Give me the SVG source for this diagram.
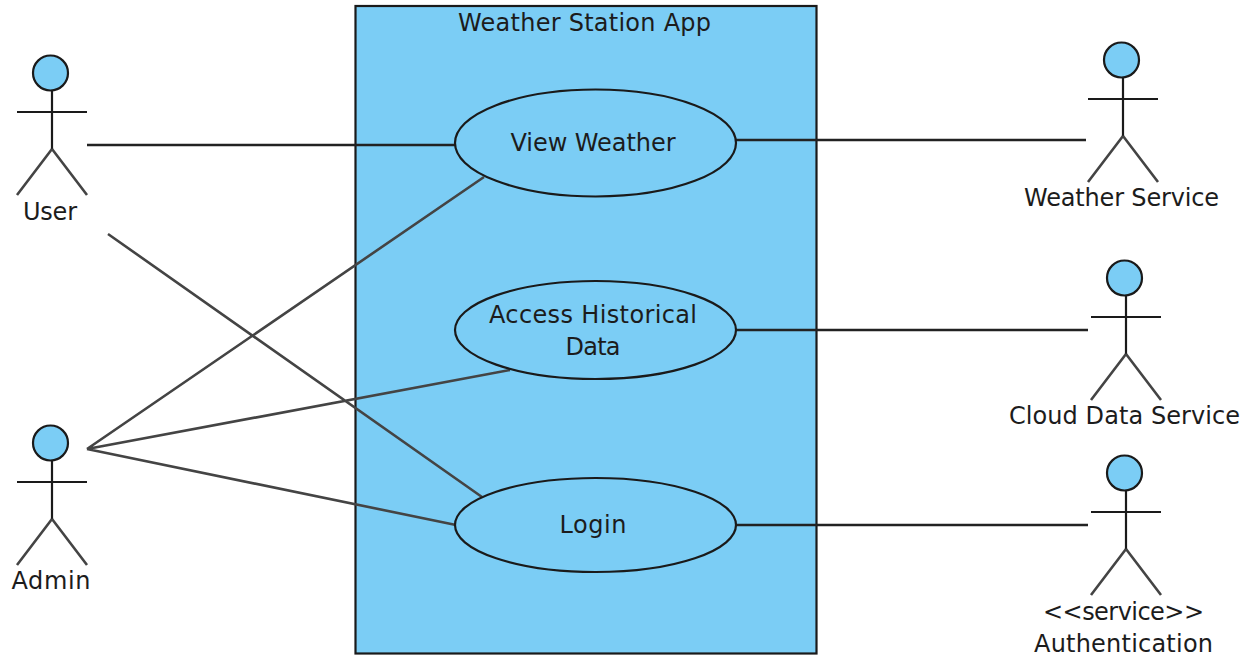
<svg xmlns="http://www.w3.org/2000/svg" width="1244" height="656" viewBox="0 0 1244 656">
<style>
text{font-family:"DejaVu Sans",sans-serif;font-size:24px;fill:#1c1c1c;text-anchor:middle}
.s{fill:#7bcdf5;stroke:#1a1a1a;stroke-width:2.2}
.l{stroke:#1a1a1a;stroke-width:2.2;fill:none}
.g{stroke:#444;stroke-width:2.6;fill:none}
.c{stroke:#222;stroke-width:2.4;fill:none}
</style>
<defs>
<g id="actor"><circle class="s" cx="-1.500" cy="0" r="17.500"/><path class="l" d="M0 17.500V76M-35 39H35"/><path class="g" d="M0 76L-35 122M0 76L35 122"/></g>
</defs>
<rect width="1244" height="656" fill="#fff"/>
<g id="system"><rect class="s" x="355.500" y="6" width="461" height="647.500"/><text x="584.500" y="31" textLength="253">Weather Station App</text></g>
<g id="connectors">
<path class="c" d="M87 145H456M736 140H1086M736 330H1088M736 525H1088"/>
<path class="g" d="M108 234L482 497M87 449L484 177M87 449L510 370M87 449L456 525"/>
</g>
<g id="view-weather"><ellipse class="s" cx="595.500" cy="143" rx="140.500" ry="53.500"/><text x="593" y="151" textLength="165">View Weather</text></g>
<g id="access-historical-data"><ellipse class="s" cx="595.500" cy="330" rx="140.500" ry="49"/><text x="593" y="323" textLength="208">Access Historical</text><text x="593" y="355" textLength="55">Data</text></g>
<g id="login"><ellipse class="s" cx="595.500" cy="525" rx="140.500" ry="47"/><text x="593" y="533" textLength="67">Login</text></g>
<g id="user"><use href="#actor" x="52" y="73"/><text x="50" y="220" textLength="54">User</text></g>
<g id="admin"><use href="#actor" x="52" y="443"/><text x="51" y="589" textLength="79">Admin</text></g>
<g id="weather-service"><use href="#actor" x="1123" y="60"/><text x="1121.500" y="206" textLength="195">Weather Service</text></g>
<g id="cloud-data-service"><use href="#actor" x="1126" y="278"/><text x="1124.500" y="424" textLength="231">Cloud Data Service</text></g>
<g id="authentication"><use href="#actor" x="1126" y="473"/><text x="1123.500" y="620" textLength="161">&lt;&lt;service&gt;&gt;</text><text x="1123.500" y="652" textLength="179">Authentication</text></g>
</svg>
